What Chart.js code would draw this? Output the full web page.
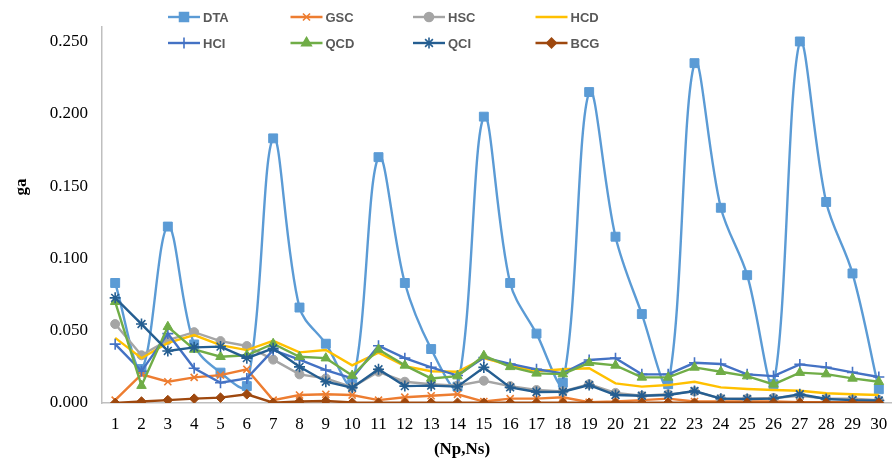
<!DOCTYPE html>
<html lang="en">
<head>
    <meta charset="UTF-8">
    <title>ga vs (Np,Ns)</title>
    <script src="https://cdn.jsdelivr.net/npm/chart.js"></script>
    <style>
        * { box-sizing: border-box; }
        body, html { margin:0; padding:0; background:#fff; }
        #wrap { width:892px; height:464px; position:relative; }
    </style>
</head>
<body>
    <div id="wrap"><canvas id="chart"></canvas></div>
    <script>
        // x categories (Np,Ns)
        const labels = ['1','2','3','4','5','6','7','8','9','10','11','12','13','14','15',
                        '16','17','18','19','20','21','22','23','24','25','26','27','28','29','30'];
        const yTicks = [0, 0.05, 0.10, 0.15, 0.20, 0.25];
        const xTitle = '(Np,Ns)';
        const yTitle = 'ga';

        // series values
        const DTA = [0.083, 0.0235, 0.122, 0.0405, 0.021, 0.0117, 0.183, 0.066, 0.041, 0.013,
                     0.170, 0.083, 0.0373, 0.0113, 0.198, 0.083, 0.048, 0.014, 0.215, 0.115,
                     0.0615, 0.013, 0.235, 0.135, 0.0884, 0.013, 0.250, 0.139, 0.0896, 0.0095];
        const GSC = [0.002, 0.0198, 0.0147, 0.0177, 0.0193, 0.0233, 0.002, 0.0055, 0.006, 0.0055,
                     0.002, 0.004, 0.005, 0.006, 0.001, 0.003, 0.003, 0.004, 0.0005, 0.001,
                     0.002, 0.003, 0.001, 0.001, 0.001, 0.001, 0.0005, 0.0005, 0.0005, 0.0005];
        const HSC = [0.0546, 0.033, 0.0435, 0.049, 0.0428, 0.0394, 0.030, 0.0198, 0.017, 0.011,
                     0.0216, 0.0147, 0.013, 0.012, 0.0154, 0.0117, 0.009, 0.008, 0.013, 0.007,
                     0.005, 0.006, 0.008, 0.003, 0.003, 0.0035, 0.005, 0.003, 0.003, 0.002];
        const HCD = [0.045, 0.031, 0.0416, 0.047, 0.040, 0.0366, 0.043, 0.035, 0.0366, 0.026,
                     0.0348, 0.0255, 0.022, 0.0216, 0.031, 0.026, 0.022, 0.0233, 0.024, 0.0136,
                     0.0113, 0.0124, 0.0147, 0.0108, 0.0097, 0.009, 0.0085, 0.0067, 0.006, 0.0055];
        const HCI = [0.0407, 0.022, 0.048, 0.024, 0.014, 0.017, 0.0366, 0.030, 0.0228, 0.017,
                     0.0396, 0.031, 0.0246, 0.019, 0.0315, 0.027, 0.0233, 0.0205, 0.0297, 0.031,
                     0.0198, 0.0198, 0.0278, 0.027, 0.0198, 0.0186, 0.0267, 0.0246, 0.0212, 0.018];
        const QCD = [0.070, 0.012, 0.0527, 0.037, 0.032, 0.033, 0.041, 0.032, 0.031, 0.019,
                     0.037, 0.026, 0.017, 0.0186, 0.0327, 0.025, 0.0205, 0.020, 0.0278, 0.026,
                     0.0177, 0.0177, 0.0246, 0.0216, 0.0186, 0.0129, 0.021, 0.020, 0.017, 0.0147];
        const QCI = [0.0727, 0.0546, 0.036, 0.0385, 0.039, 0.031, 0.0378, 0.025, 0.0147, 0.0106,
                     0.0233, 0.0117, 0.012, 0.0113, 0.0246, 0.0108, 0.0076, 0.0078, 0.0124, 0.0055,
                     0.005, 0.0055, 0.0083, 0.003, 0.0028, 0.003, 0.006, 0.0028, 0.002, 0.0017];
        const BCG = [0.000, 0.001, 0.002, 0.003, 0.0037, 0.006, 0.0002, 0.001, 0.0014, 0.0003,
                     0.0002, 0.0002, 0.0002, 0.0002, 0.0002, 0.0002, 0.0002, 0.0002, 0.0002, 0.0002,
                     0.0002, 0.0002, 0.0002, 0.0002, 0.0002, 0.0002, 0.0002, 0.0002, 0.0002, 0.0002];

        // name, data, colour, point style, radius, tension
        const series = [
            ['DTA', DTA, '#5B9BD5', 'rect', 6.3, 0.35],
            ['GSC', GSC, '#ED7D31', 'crossRot', 5, 0],
            ['HSC', HSC, '#A5A5A5', 'circle', 4.5, 0],
            ['HCD', HCD, '#FFC000', false, 0, 0],
            ['HCI', HCI, '#4472C4', 'cross', 5.5, 0],
            ['QCD', QCD, '#70AD47', 'triangle', 5.5, 0],
            ['QCI', QCI, '#255E91', 'star', 5.5, 0],
            ['BCG', BCG, '#9E480E', 'rectRot', 4.8, 0]
        ];

        const datasets = series.map(([name, data, color, style, r, tension], i) => ({
            label: name,
            data,
            borderColor: color,
            backgroundColor: color,
            borderWidth: 2.4,
            tension,
            pointStyle: style,
            pointRadius: r,
            pointBorderWidth: style === 'rect' || style === 'rectRot' || style === 'circle' || style === 'triangle' ? 1 : 1.6,
            pointBackgroundColor: color,
            pointBorderColor: color,
            order: series.length - i   // later series painted on top, like the original
        }));

        // legend in 4 fixed columns, 2 rows + axis titles placed like the original
        const legendPlugin = {
            id: 'gridLegend',
            afterDraw(chart) {
                const ctx = chart.ctx;
                ctx.save();
                ctx.font = 'bold 13px "Liberation Sans", Arial, sans-serif';
                ctx.textBaseline = 'middle';
                ctx.textAlign = 'left';
                series.forEach(([name, , color, style, r], i) => {
                    const x0 = 168 + (i % 4) * 122.5;
                    const y = i < 4 ? 17 : 43;
                    ctx.strokeStyle = color;
                    ctx.fillStyle = color;
                    ctx.lineWidth = 2.4;
                    ctx.beginPath();
                    ctx.moveTo(x0, y);
                    ctx.lineTo(x0 + 32, y);
                    ctx.stroke();
                    if (style && Chart.helpers && Chart.helpers.drawPoint) {
                        ctx.lineWidth = 1.6;
                        Chart.helpers.drawPoint(ctx, {pointStyle: style, radius: r, rotation: 0, borderWidth: 1.6}, x0 + 16, y);
                    }
                    ctx.fillStyle = '#595959';
                    ctx.fillText(name, x0 + 35, y + 1);
                });
                ctx.font = 'bold 17px "Liberation Serif", "Times New Roman", serif';
                ctx.fillStyle = '#000';
                ctx.textAlign = 'center';
                ctx.fillText(xTitle, 462, 450);
                ctx.translate(22, 187);
                ctx.rotate(-Math.PI / 2);
                ctx.fillText(yTitle, 0, 0);
                ctx.restore();
            }
        };

        const tickFont = { family: '"Liberation Serif", "Times New Roman", serif', size: 17 };

        new Chart(document.getElementById('chart'), {
            type: 'line',
            data: { labels, datasets },
            options: {
                responsive: true,
                maintainAspectRatio: false,
                animation: false,
                layout: { autoPadding: false, padding: { top: 27, right: 0, left: 0, bottom: 0 } },
                plugins: { legend: { display: false }, tooltip: { enabled: false } },
                scales: {
                    x: {
                        offset: true,
                        grid: { display: false, drawTicks: false },
                        border: { display: true, color: '#BFBFBF', width: 1.5 },
                        ticks: { font: tickFont, color: '#000', padding: 11, maxRotation: 0, autoSkip: false },
                        afterFit: s => { s.height = 61; s.paddingLeft = 0; s.paddingRight = 0; }
                    },
                    y: {
                        min: 0,
                        max: 0.26,
                        grid: { display: false, drawTicks: false },
                        border: { display: true, color: '#BFBFBF', width: 1.5 },
                        ticks: {
                            font: tickFont, color: '#000', padding: 14, stepSize: 0.05,
                            callback: v => v.toFixed(3)
                        },
                        afterBuildTicks: s => {
                            s.ticks = yTicks.map(v => ({ value: v }));
                        },
                        afterFit: s => { s.width = 102; s.paddingTop = 0; s.paddingBottom = 0; }
                    }
                }
            },
            plugins: [legendPlugin]
        });
    </script>
</body>
</html>
